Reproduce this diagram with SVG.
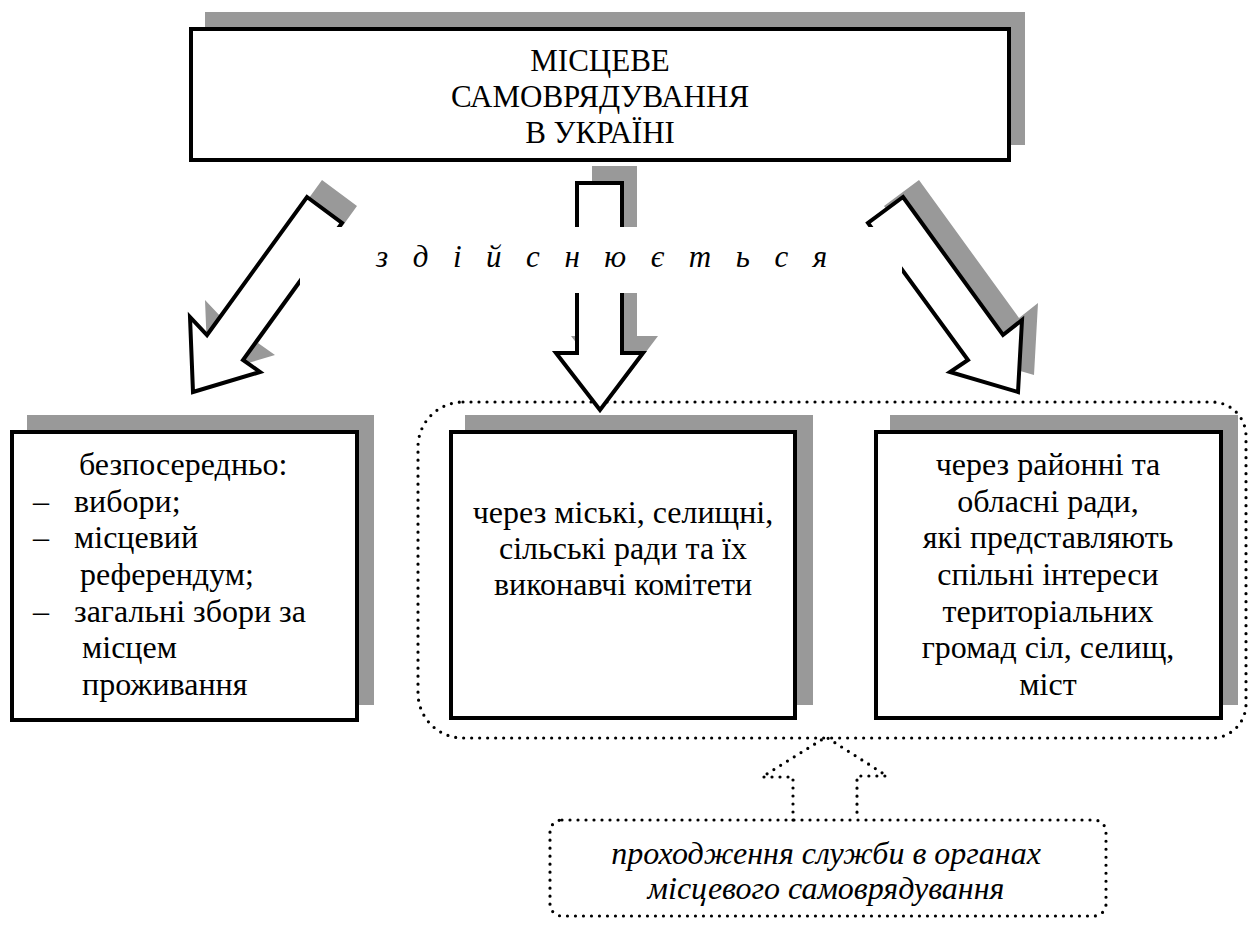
<svg xmlns="http://www.w3.org/2000/svg" width="1249" height="928" viewBox="0 0 1249 928">
<style>
.sh{fill:#999999;stroke:none}
.box{fill:#ffffff;stroke:#000000;stroke-width:4}
.arr{fill:#ffffff;stroke:#000000;stroke-width:4;stroke-linejoin:miter}
.dot{fill:none;stroke:#000000;stroke-width:3.2;stroke-dasharray:0 8;stroke-linecap:round}
.t{font-family:"Liberation Serif","Times New Roman",serif;font-size:32px;fill:#000000}
.c{text-anchor:middle}
.i{font-style:italic}
</style>
<rect width="1249" height="928" fill="#ffffff"/>

<g id="region-dotted">
<path class="dot" d="M463 402 H1212 A34 34 0 0 1 1246 436 V704 A34 34 0 0 1 1212 738 H463 A45 45 0 0 1 418 693 V447 A45 45 0 0 1 463 402 Z"/>
</g>

<g id="top-node">
<rect class="sh" x="205" y="12" width="820" height="133"/>
<rect class="box" x="191" y="29" width="818" height="131"/>
<text class="t c" style="font-size:31px" x="600" y="71">МІСЦЕВЕ</text>
<text class="t c" style="font-size:31px" x="600" y="107">САМОВРЯДУВАННЯ</text>
<text class="t c" style="font-size:31px" x="600" y="143">В УКРАЇНІ</text>
</g>

<g id="connectors">
<polygon class="sh" transform="translate(15,-17)" points="307,197 342,223 243,360 260,372 193,392 190,317 207,335"/>
<polygon class="sh" transform="translate(15,-17)" points="577,183 622,183 622,353 643,353 600,410 556,353 577,353"/>
<polygon class="sh" transform="translate(16,-17)" points="903,197 1003,335 1022,320 1018,392 950,372 968,360 868,223"/>
<polygon class="arr" points="307,197 342,223 243,360 260,372 193,392 190,317 207,335"/>
<polygon class="arr" points="577,183 622,183 622,353 643,353 600,410 556,353 577,353"/>
<polygon class="arr" points="903,197 1003,335 1022,320 1018,392 950,372 968,360 868,223"/>
<path class="dot" d="M793 820 V777 H762 L826 737 L887 776 H857 V820"/>
</g>

<g id="label-zdiysnyuyetsya">
<rect x="300" y="227" width="602" height="66" fill="#ffffff"/>
<text class="t i" x="376" y="267" style="font-size:31px;letter-spacing:8.4px">з д і й с н ю є т ь с я</text>
</g>

<g id="left-node">
<rect class="sh" x="27" y="415" width="347" height="290"/>
<rect class="box" x="12" y="432" width="345" height="288"/>
<text class="t" x="79" y="475">безпосередньо:</text>
<text class="t" x="33" y="512">–</text>
<text class="t" x="74" y="512">вибори;</text>
<text class="t" x="33" y="548">–</text>
<text class="t" x="74" y="548">місцевий</text>
<text class="t" x="80" y="585">референдум;</text>
<text class="t" x="33" y="622">–</text>
<text class="t" x="74" y="622">загальні збори за</text>
<text class="t" x="82" y="658">місцем</text>
<text class="t" x="82" y="695">проживання</text>
</g>

<g id="middle-node">
<rect class="sh" x="465" y="415" width="348" height="290"/>
<rect class="box" x="451" y="432" width="344" height="286"/>
<text class="t c" x="623" y="523">через міські, селищні,</text>
<text class="t c" x="623" y="559">сільські ради та їх</text>
<text class="t c" x="623" y="595">виконавчі комітети</text>
</g>

<g id="right-node">
<rect class="sh" x="890" y="415" width="348" height="290"/>
<rect class="box" x="876" y="432" width="345" height="286"/>
<text class="t c" x="1048" y="475">через районні та</text>
<text class="t c" x="1048" y="512">обласні ради,</text>
<text class="t c" x="1048" y="548">які представляють</text>
<text class="t c" x="1048" y="585">спільні інтереси</text>
<text class="t c" x="1048" y="622">територіальних</text>
<text class="t c" x="1048" y="658">громад сіл, селищ,</text>
<text class="t c" x="1048" y="695">міст</text>
</g>

<g id="bottom-node">
<rect class="dot" x="550" y="820" width="556" height="96" rx="12" ry="12"/>
<text class="t c i" x="826" y="864">проходження служби в органах</text>
<text class="t c i" x="826" y="899">місцевого самоврядування</text>
</g>
</svg>
